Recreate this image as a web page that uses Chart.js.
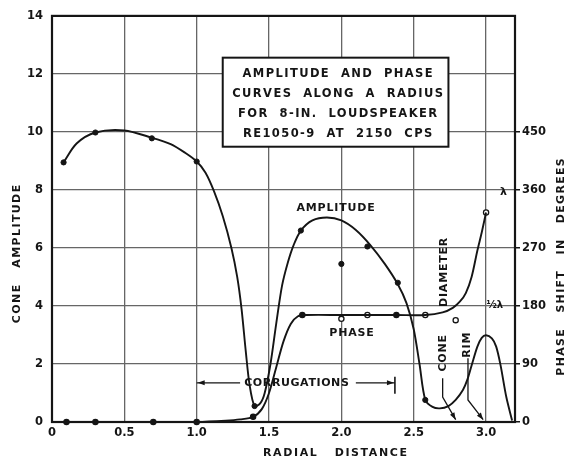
<!DOCTYPE html>
<html>
<head>
<meta charset="utf-8">
<script src="https://cdn.jsdelivr.net/npm/chart.js@4.4.1/dist/chart.umd.min.js"></script>
<style>
  body { margin: 0; background: #fff; }
  canvas { display: block; }
</style>
</head>
<body>
<canvas id="coneChart" width="571" height="461"></canvas>
<script>
// amplitude curve, radial distance vs cone amplitude
const ampX = [0.08, 0.17, 0.3, 0.5, 0.69, 0.82, 0.92, 1.0, 1.06, 1.12, 1.18, 1.24, 1.28, 1.31, 1.34, 1.365, 1.4,
  1.44, 1.47, 1.51, 1.55, 1.59, 1.63, 1.67, 1.72, 1.8, 1.9, 2.0, 2.1, 2.2, 2.3, 2.39, 2.45, 2.5, 2.54,
  2.58, 2.63, 2.68, 2.74, 2.79, 2.84, 2.87, 2.9, 2.94, 2.97, 3.0, 3.04, 3.07, 3.1, 3.14, 3.18];
const ampY = [8.95, 9.6, 9.98, 10.05, 9.8, 9.58, 9.28, 8.98, 8.6, 7.95, 7.1, 6.0, 5.0, 3.9, 2.4, 1.3, 0.55,
  0.65, 1.0, 2.0, 3.4, 4.7, 5.5, 6.1, 6.6, 6.95, 7.05, 6.95, 6.62, 6.1, 5.45, 4.75, 4.1, 3.2, 2.0,
  0.76, 0.52, 0.47, 0.55, 0.76, 1.1, 1.45, 1.95, 2.6, 2.9, 2.99, 2.88, 2.6, 1.96, 0.86, 0.05];
// measured amplitude points
const ampPtX = [0.08, 0.3, 0.69, 1.0, 1.4, 1.72, 2.0, 2.18, 2.39, 2.58];
const ampPtY = [8.95, 9.98, 9.78, 8.98, 0.55, 6.6, 5.45, 6.05, 4.8, 0.76];

// phase curve in degrees
const phaseX = [0.1, 0.3, 0.7, 1.0, 1.2, 1.3, 1.39, 1.45, 1.5, 1.55, 1.6, 1.65, 1.7, 1.76, 2.0, 2.18, 2.38,
  2.58, 2.7, 2.77, 2.82, 2.86, 2.9, 2.94, 2.97, 3.0];
const phaseDeg = [0, 0, 0, 0, 2, 4, 8, 20, 45, 85, 125, 152, 164, 166, 166, 166, 166,
  166, 170, 177, 187, 200, 225, 266, 294, 325];
const phasePtX = [0.1, 0.3, 0.7, 1.0, 1.39, 1.73, 2.0, 2.18, 2.38, 2.58, 2.79, 3.0];
const phasePtDeg = [0, 0, 0, 0, 8, 166, 160, 166, 166, 166, 158, 325];
const phasePtOpen = [false, false, false, false, false, false, true, true, false, true, true, true];

const xTicks = [0, 0.5, 1.0, 1.5, 2.0, 2.5, 3.0];
const ampTicks = [0, 2, 4, 6, 8, 10, 12, 14];
const phaseTicks = [0, 90, 180, 270, 360, 450];

const titleLines = ['AMPLITUDE  AND  PHASE', 'CURVES  ALONG  A  RADIUS', 'FOR  8-IN.  LOUDSPEAKER', 'RE1050-9  AT  2150  CPS'];

const INK = '#151515';
const FONT = '"DejaVu Sans", sans-serif';

function pairs(xs, ys) {
  return xs.map((x, i) => ({ x: x, y: ys[i] }));
}

function txt(ctx, s, x, y, size, spacing, rot) {
  ctx.save();
  ctx.translate(x, y);
  if (rot) ctx.rotate(rot);
  ctx.font = 'bold ' + size + 'px ' + FONT;
  ctx.letterSpacing = spacing + 'px';
  ctx.fillStyle = INK;
  ctx.textAlign = 'center';
  ctx.textBaseline = 'middle';
  ctx.fillText(s, spacing / 2, 0);
  ctx.restore();
}

function line(ctx, pts, w) {
  ctx.beginPath();
  ctx.moveTo(pts[0][0], pts[0][1]);
  for (let i = 1; i < pts.length; i++) ctx.lineTo(pts[i][0], pts[i][1]);
  ctx.lineWidth = w || 1.3;
  ctx.strokeStyle = INK;
  ctx.stroke();
}

function arrow(ctx, x, y, dx, dy) {
  // small filled arrowhead pointing along (dx, dy)
  const len = Math.hypot(dx, dy);
  const ux = dx / len, uy = dy / len;
  ctx.beginPath();
  ctx.moveTo(x, y);
  ctx.lineTo(x - ux * 7 - uy * 2.5, y - uy * 7 + ux * 2.5);
  ctx.lineTo(x - ux * 7 + uy * 2.5, y - uy * 7 - ux * 2.5);
  ctx.closePath();
  ctx.fillStyle = INK;
  ctx.fill();
}

const notes = {
  id: 'notes',
  afterDraw(chart) {
    const ctx = chart.ctx;
    const a = chart.chartArea;
    const px = v => chart.scales.x.getPixelForValue(v);
    const py = v => chart.scales.y.getPixelForValue(v);

    // frame
    ctx.save();
    ctx.lineWidth = 2.2;
    ctx.strokeStyle = INK;
    ctx.strokeRect(a.left, a.top, a.right - a.left, a.bottom - a.top);

    // title box
    const bx = px(1.18), by = py(12.56), bw = px(2.74) - bx, bh = py(9.49) - by;
    ctx.fillStyle = '#fff';
    ctx.fillRect(bx, by, bw, bh);
    ctx.lineWidth = 2;
    ctx.strokeRect(bx, by, bw, bh);
    titleLines.forEach((s, i) => txt(ctx, s, bx + bw / 2 + 2, by + 16 + i * 20, 11.5, 1.4));

    txt(ctx, 'AMPLITUDE', px(1.96), py(7.36), 11, 0.8);
    txt(ctx, 'PHASE', px(2.07), py(3.06), 11, 0.8);
    txt(ctx, 'DIAMETER', px(2.71), py(5.16), 11, 0.8, -Math.PI / 2);
    txt(ctx, 'CONE', px(2.70), py(2.37), 11, 0.8, -Math.PI / 2);
    txt(ctx, 'RIM', px(2.87), py(2.65), 11, 0.8, -Math.PI / 2);
    txt(ctx, 'λ', px(3.12), py(7.91), 11, 0);
    txt(ctx, '½λ', px(3.06), py(4.02), 10, 0);

    // corrugations span
    const cy = py(1.35);
    txt(ctx, 'CORRUGATIONS', px(1.69), cy, 11, 0.6);
    line(ctx, [[px(1.0), cy], [px(1.3), cy]]);
    line(ctx, [[px(2.1), cy], [px(2.37), cy]]);
    arrow(ctx, px(1.0) + 1, cy, -1, 0);
    arrow(ctx, px(2.37) - 1, cy, 1, 0);
    line(ctx, [[px(2.37), cy - 6], [px(2.37), cy + 11]], 1.6);

    // leaders from CONE and RIM down to the axis
    line(ctx, [[px(2.70), py(1.51)], [px(2.70), py(0.86)], [px(2.79), py(0.08)]]);
    arrow(ctx, px(2.79), py(0.08), px(2.79) - px(2.70), py(0.08) - py(0.86));
    line(ctx, [[px(2.875), py(2.2)], [px(2.875), py(0.76)], [px(2.98), py(0.08)]]);
    arrow(ctx, px(2.98), py(0.08), px(2.98) - px(2.875), py(0.08) - py(0.76));

    // axis titles
    txt(ctx, 'CONE   AMPLITUDE', 17, 254, 11, 1.4, -Math.PI / 2);
    txt(ctx, 'PHASE   SHIFT   IN   DEGREES', 561, 267, 11, 1.3, -Math.PI / 2);
    txt(ctx, 'RADIAL   DISTANCE', 335, 453, 11, 1.6);
    ctx.restore();
  }
};

function keepTicks(list) {
  return scale => {
    scale.ticks = list.map(v => ({ value: v }));
  };
}

function renderChart() {
  const ctx = document.getElementById('coneChart');
  const gridStyle = { color: '#666', lineWidth: 1.3, drawTicks: false };
  const tickFont = { family: FONT, size: 11.5, weight: 'bold' };

  new Chart(ctx, {
    type: 'line',
    data: {
      datasets: [
        {
          data: pairs(ampX, ampY),
          borderColor: INK,
          borderWidth: 1.9,
          pointRadius: 0,
          tension: 0.3,
          yAxisID: 'y'
        },
        {
          data: pairs(ampPtX, ampPtY),
          showLine: false,
          pointRadius: 2.6,
          pointBackgroundColor: INK,
          pointBorderColor: INK,
          yAxisID: 'y',
          clip: false
        },
        {
          data: pairs(phaseX, phaseDeg),
          borderColor: INK,
          borderWidth: 1.9,
          pointRadius: 0,
          tension: 0.3,
          yAxisID: 'y2'
        },
        {
          data: pairs(phasePtX, phasePtDeg),
          showLine: false,
          pointRadius: 2.6,
          pointBorderWidth: 1.3,
          pointBackgroundColor: phasePtOpen.map(o => o ? '#fff' : INK),
          pointBorderColor: INK,
          yAxisID: 'y2',
          clip: false
        }
      ]
    },
    options: {
      responsive: false,
      animation: false,
      layout: { padding: { top: 15 } },
      plugins: { legend: { display: false }, tooltip: { enabled: false } },
      scales: {
        x: {
          type: 'linear',
          min: 0,
          max: 3.2,
          afterBuildTicks: keepTicks(xTicks),
          afterFit: s => { s.height = 39; },
          grid: gridStyle,
          border: { display: false },
          ticks: {
            padding: 4,
            color: INK,
            font: tickFont,
            maxRotation: 0,
            callback: v => v === 0 ? '0' : v.toFixed(1)
          }
        },
        y: {
          position: 'left',
          min: 0,
          max: 14,
          afterBuildTicks: keepTicks(ampTicks),
          afterFit: s => { s.width = 52; },
          grid: gridStyle,
          border: { display: false },
          ticks: { padding: 9, color: INK, font: tickFont }
        },
        y2: {
          position: 'right',
          min: 0,
          max: 630,
          afterBuildTicks: keepTicks(phaseTicks),
          afterFit: s => { s.width = 56; },
          grid: { drawOnChartArea: false, drawTicks: true, tickLength: 5, color: INK, lineWidth: 1.5 },
          border: { display: false },
          ticks: { padding: 2, color: INK, font: tickFont }
        }
      }
    },
    plugins: [notes]
  });
}

document.addEventListener('DOMContentLoaded', renderChart);
</script>
</body>
</html>
